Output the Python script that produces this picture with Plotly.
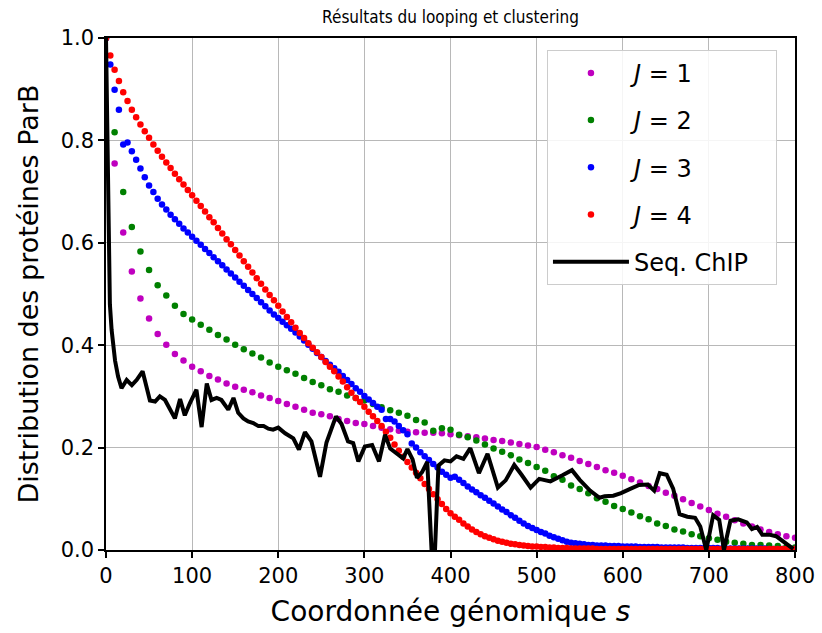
import plotly.graph_objects as go

# genomic coordinates of the simulated points
s_coarse = list(range(0, 801, 10))
s_fine = list(range(0, 801, 5))

# J = 1 (every 10)
j1 = [1.0, 0.755, 0.620, 0.544, 0.491, 0.452, 0.422, 0.401, 0.383, 0.370,
      0.358, 0.349, 0.340, 0.333, 0.325, 0.319, 0.313, 0.308, 0.302, 0.297,
      0.291, 0.285, 0.280, 0.274, 0.268, 0.265, 0.261, 0.256, 0.252, 0.248,
      0.246, 0.242, 0.239, 0.236, 0.233, 0.231, 0.230, 0.229, 0.229, 0.228,
      0.226, 0.224, 0.222, 0.220, 0.218, 0.215, 0.213, 0.210, 0.207, 0.204,
      0.201, 0.196, 0.191, 0.185, 0.180, 0.174, 0.168, 0.162, 0.156, 0.151,
      0.145, 0.138, 0.132, 0.125, 0.119, 0.112, 0.106, 0.099, 0.092, 0.085,
      0.078, 0.071, 0.065, 0.058, 0.052, 0.046, 0.040, 0.035, 0.031, 0.027,
      0.024]

# J = 2 (every 10)
j2 = [1.0, 0.816, 0.699, 0.631, 0.583, 0.547, 0.517, 0.497, 0.477, 0.461,
      0.450, 0.440, 0.430, 0.420, 0.411, 0.401, 0.392, 0.384, 0.376, 0.366,
      0.358, 0.351, 0.344, 0.336, 0.328, 0.322, 0.314, 0.309, 0.302, 0.297,
      0.292, 0.285, 0.279, 0.273, 0.268, 0.262, 0.254, 0.249, 0.233, 0.238,
      0.235, 0.225, 0.220, 0.214, 0.206, 0.198, 0.192, 0.185, 0.177, 0.170,
      0.162, 0.155, 0.144, 0.137, 0.126, 0.119, 0.111, 0.101, 0.094, 0.086,
      0.080, 0.073, 0.066, 0.060, 0.052, 0.047, 0.040, 0.036, 0.031, 0.027,
      0.023, 0.020, 0.016, 0.014, 0.012, 0.010, 0.010, 0.009, 0.008, 0.006,
      0.005]

# J = 3 (every 5)
j3 = [1.0, 0.948, 0.899, 0.860, 0.792, 0.796, 0.779, 0.762, 0.745, 0.728,
      0.712, 0.699, 0.686, 0.675, 0.665, 0.655, 0.646, 0.637, 0.628, 0.620,
      0.612, 0.604, 0.596, 0.588, 0.580, 0.572, 0.564, 0.556, 0.548, 0.540,
      0.532, 0.524, 0.516, 0.508, 0.500, 0.492, 0.484, 0.476, 0.468, 0.460,
      0.453, 0.446, 0.439, 0.432, 0.425, 0.417, 0.409, 0.401, 0.393, 0.385,
      0.377, 0.369, 0.362, 0.355, 0.348, 0.340, 0.332, 0.324, 0.316, 0.309,
      0.301, 0.294, 0.287, 0.280, 0.274, 0.256, 0.256, 0.251, 0.242, 0.234,
      0.226, 0.208, 0.200, 0.191, 0.183, 0.176, 0.168, 0.161, 0.153, 0.147,
      0.141, 0.143, 0.137, 0.131, 0.124, 0.118, 0.113, 0.107, 0.102, 0.096,
      0.091, 0.085, 0.079, 0.074, 0.068, 0.063, 0.057, 0.052, 0.047, 0.043,
      0.039, 0.035, 0.032, 0.028, 0.025, 0.022, 0.019, 0.016, 0.014, 0.013,
      0.012, 0.011, 0.010, 0.010, 0.009, 0.009, 0.009, 0.008, 0.008, 0.008,
      0.007, 0.007, 0.007, 0.007, 0.006, 0.006, 0.006, 0.006, 0.006, 0.005,
      0.005, 0.005, 0.005, 0.005, 0.005, 0.004, 0.004, 0.004, 0.004, 0.004,
      0.004, 0.004, 0.004, 0.003, 0.003, 0.003, 0.003, 0.003, 0.003, 0.003,
      0.003, 0.003, 0.003, 0.003, 0.002, 0.002, 0.002, 0.002, 0.002, 0.002,
      0.002]

# J = 4 (every 5)
j4 = [1.0, 0.966, 0.938, 0.916, 0.894, 0.877, 0.860, 0.845, 0.831, 0.818,
      0.805, 0.792, 0.780, 0.768, 0.757, 0.746, 0.735, 0.724, 0.714, 0.703,
      0.693, 0.682, 0.672, 0.661, 0.650, 0.640, 0.629, 0.618, 0.607, 0.597,
      0.586, 0.575, 0.564, 0.553, 0.542, 0.531, 0.520, 0.509, 0.498, 0.488,
      0.477, 0.466, 0.455, 0.445, 0.434, 0.424, 0.414, 0.404, 0.395, 0.386,
      0.377, 0.367, 0.358, 0.349, 0.339, 0.329, 0.318, 0.307, 0.297, 0.289,
      0.280, 0.270, 0.261, 0.252, 0.242, 0.231, 0.219, 0.206, 0.194, 0.182,
      0.172, 0.161, 0.151, 0.140, 0.129, 0.119, 0.109, 0.099, 0.090, 0.080,
      0.072, 0.065, 0.059, 0.052, 0.046, 0.040, 0.035, 0.031, 0.027, 0.024,
      0.021, 0.018, 0.016, 0.014, 0.012, 0.011, 0.010, 0.009, 0.008, 0.007,
      0.007, 0.006, 0.006, 0.005, 0.005, 0.004, 0.004, 0.004, 0.003, 0.003,
      0.003, 0.003, 0.003, 0.003, 0.002, 0.002, 0.002, 0.002, 0.002, 0.002,
      0.002, 0.002, 0.002, 0.002, 0.002, 0.002, 0.002, 0.002, 0.002, 0.002,
      0.002, 0.002, 0.002, 0.002, 0.002, 0.002, 0.002, 0.002, 0.002, 0.002,
      0.002, 0.002, 0.002, 0.002, 0.002, 0.002, 0.002, 0.002, 0.002, 0.002,
      0.002, 0.002, 0.002, 0.002, 0.002, 0.002, 0.002, 0.002, 0.002, 0.002,
      0.002]

# Seq. ChIP profile
chip_s = [0, 1.5, 3, 4.5, 6.5, 8.5, 10.5, 14, 18, 24, 30, 35.5, 42.5, 47, 51,
          57, 62.5, 68.5, 74, 80, 86, 91.5, 97.5, 105, 111, 117, 122.5, 128.5,
          134, 142, 148, 153.5, 159.5, 165, 171, 177, 183, 188.5, 194, 200,
          208, 217.5, 224, 231, 238.5, 248.5, 256, 267, 273.5, 281, 287, 293,
          300.5, 309, 317, 324, 330, 339, 345, 350, 356, 361, 367, 373, 378,
          382, 386, 393, 400, 407, 415, 423, 433, 443, 455, 464, 474, 482.5,
          493, 503, 516, 530, 541, 550, 562, 573, 579, 589, 598, 608, 619,
          629, 636.5, 643, 651, 658.5, 666, 675, 684, 690, 697, 705, 712,
          717.5, 725, 734, 744, 750, 756, 762, 770, 778, 786, 798]
chip_v = [1.0, 0.82, 0.55, 0.48, 0.43, 0.40, 0.37, 0.339, 0.316, 0.332, 0.322,
          0.332, 0.349, 0.319, 0.292, 0.29, 0.30, 0.293, 0.274, 0.257, 0.295,
          0.263, 0.287, 0.313, 0.24, 0.325, 0.293, 0.297, 0.293, 0.274, 0.297,
          0.268, 0.257, 0.251, 0.248, 0.242, 0.242, 0.237, 0.235, 0.239, 0.228,
          0.218, 0.196, 0.23, 0.212, 0.143, 0.21, 0.261, 0.246, 0.212, 0.209,
          0.173, 0.202, 0.205, 0.173, 0.225, 0.198, 0.186, 0.179, 0.197, 0.177,
          0.141, 0.152, 0.172, 0.0, 0.0, 0.165, 0.175, 0.173, 0.183, 0.178,
          0.199, 0.15, 0.188, 0.122, 0.136, 0.166, 0.147, 0.122, 0.139, 0.134,
          0.146, 0.156, 0.137, 0.116, 0.102, 0.105, 0.106, 0.111, 0.119, 0.127,
          0.128, 0.116, 0.15, 0.147, 0.12, 0.07, 0.065, 0.063, 0.046, 0.0,
          0.068, 0.059, 0.0, 0.057, 0.06, 0.054, 0.041, 0.045, 0.03, 0.03,
          0.027, 0.016, 0.002]

x_ticks = [0, 100, 200, 300, 400, 500, 600, 700, 800]
y_ticks = [0.0, 0.2, 0.4, 0.6, 0.8, 1.0]

FONT = "DejaVu Sans"

fig = go.Figure()
series = [
    ("<i>J</i> = 1", s_coarse, j1, "#bf00bf"),
    ("<i>J</i> = 2", s_coarse, j2, "#008000"),
    ("<i>J</i> = 3", s_fine, j3, "#0000ff"),
    ("<i>J</i> = 4", s_fine, j4, "#ff0000"),
]
for name, xs, ys, col in series:
    fig.add_trace(go.Scatter(
        x=xs, y=ys, mode="markers", name=name, legendgroup=name,
        marker=dict(color=col, size=6.5, line=dict(width=0)),
    ))
fig.add_trace(go.Scatter(
    x=chip_s, y=chip_v, mode="lines", name="Seq. ChIP\u00a0\u00a0\u00a0",
    legendgroup="chip",
    line=dict(color="black", width=4),
))

axis_common = dict(
    showline=True, linecolor="black", linewidth=1.5, mirror=True,
    ticks="outside", ticklen=6, tickwidth=1.5, tickcolor="black",
    showgrid=True, gridcolor="#b8b8b8", gridwidth=1.3,
    zeroline=False, automargin=False,
    tickfont=dict(family=FONT, size=21, color="black"),
)

fig.update_layout(
    width=822, height=633,
    margin=dict(l=106, r=27, t=38, b=83),
    paper_bgcolor="white", plot_bgcolor="white",
    font=dict(family=FONT, color="black"),
    title=dict(
        text="Résultats du looping et clustering",
        x=0.5, xref="paper", xanchor="center",
        y=1 - 17 / 633, yref="container", yanchor="middle",
        font=dict(family="DejaVu Sans Condensed, DejaVu Sans", size=17, color="black"),
    ),
    xaxis=dict(
        range=[0, 800], tickvals=x_ticks,
        title=dict(text="Coordonnée génomique <i>s</i>",
                   font=dict(family=FONT, size=28, color="black"), standoff=14),
        **axis_common,
    ),
    yaxis=dict(
        range=[0, 1], tickvals=y_ticks, tickformat=".1f",
        title=dict(text="Distribution des protéines ParB",
                   font=dict(family=FONT, size=27, color="black"), standoff=14),
        **axis_common,
    ),
    legend=dict(
        x=0.64, y=0.977, xanchor="left", yanchor="top",
        bgcolor="rgba(255,255,255,0.85)", bordercolor="#cccccc", borderwidth=1,
        font=dict(family=FONT, size=24, color="black"),
        itemwidth=76, tracegroupgap=13, traceorder="grouped",
    ),
    showlegend=True,
)

fig.write_html("out.html", config={"displayModeBar": False},
               post_script="document.body.style.margin='0';")
